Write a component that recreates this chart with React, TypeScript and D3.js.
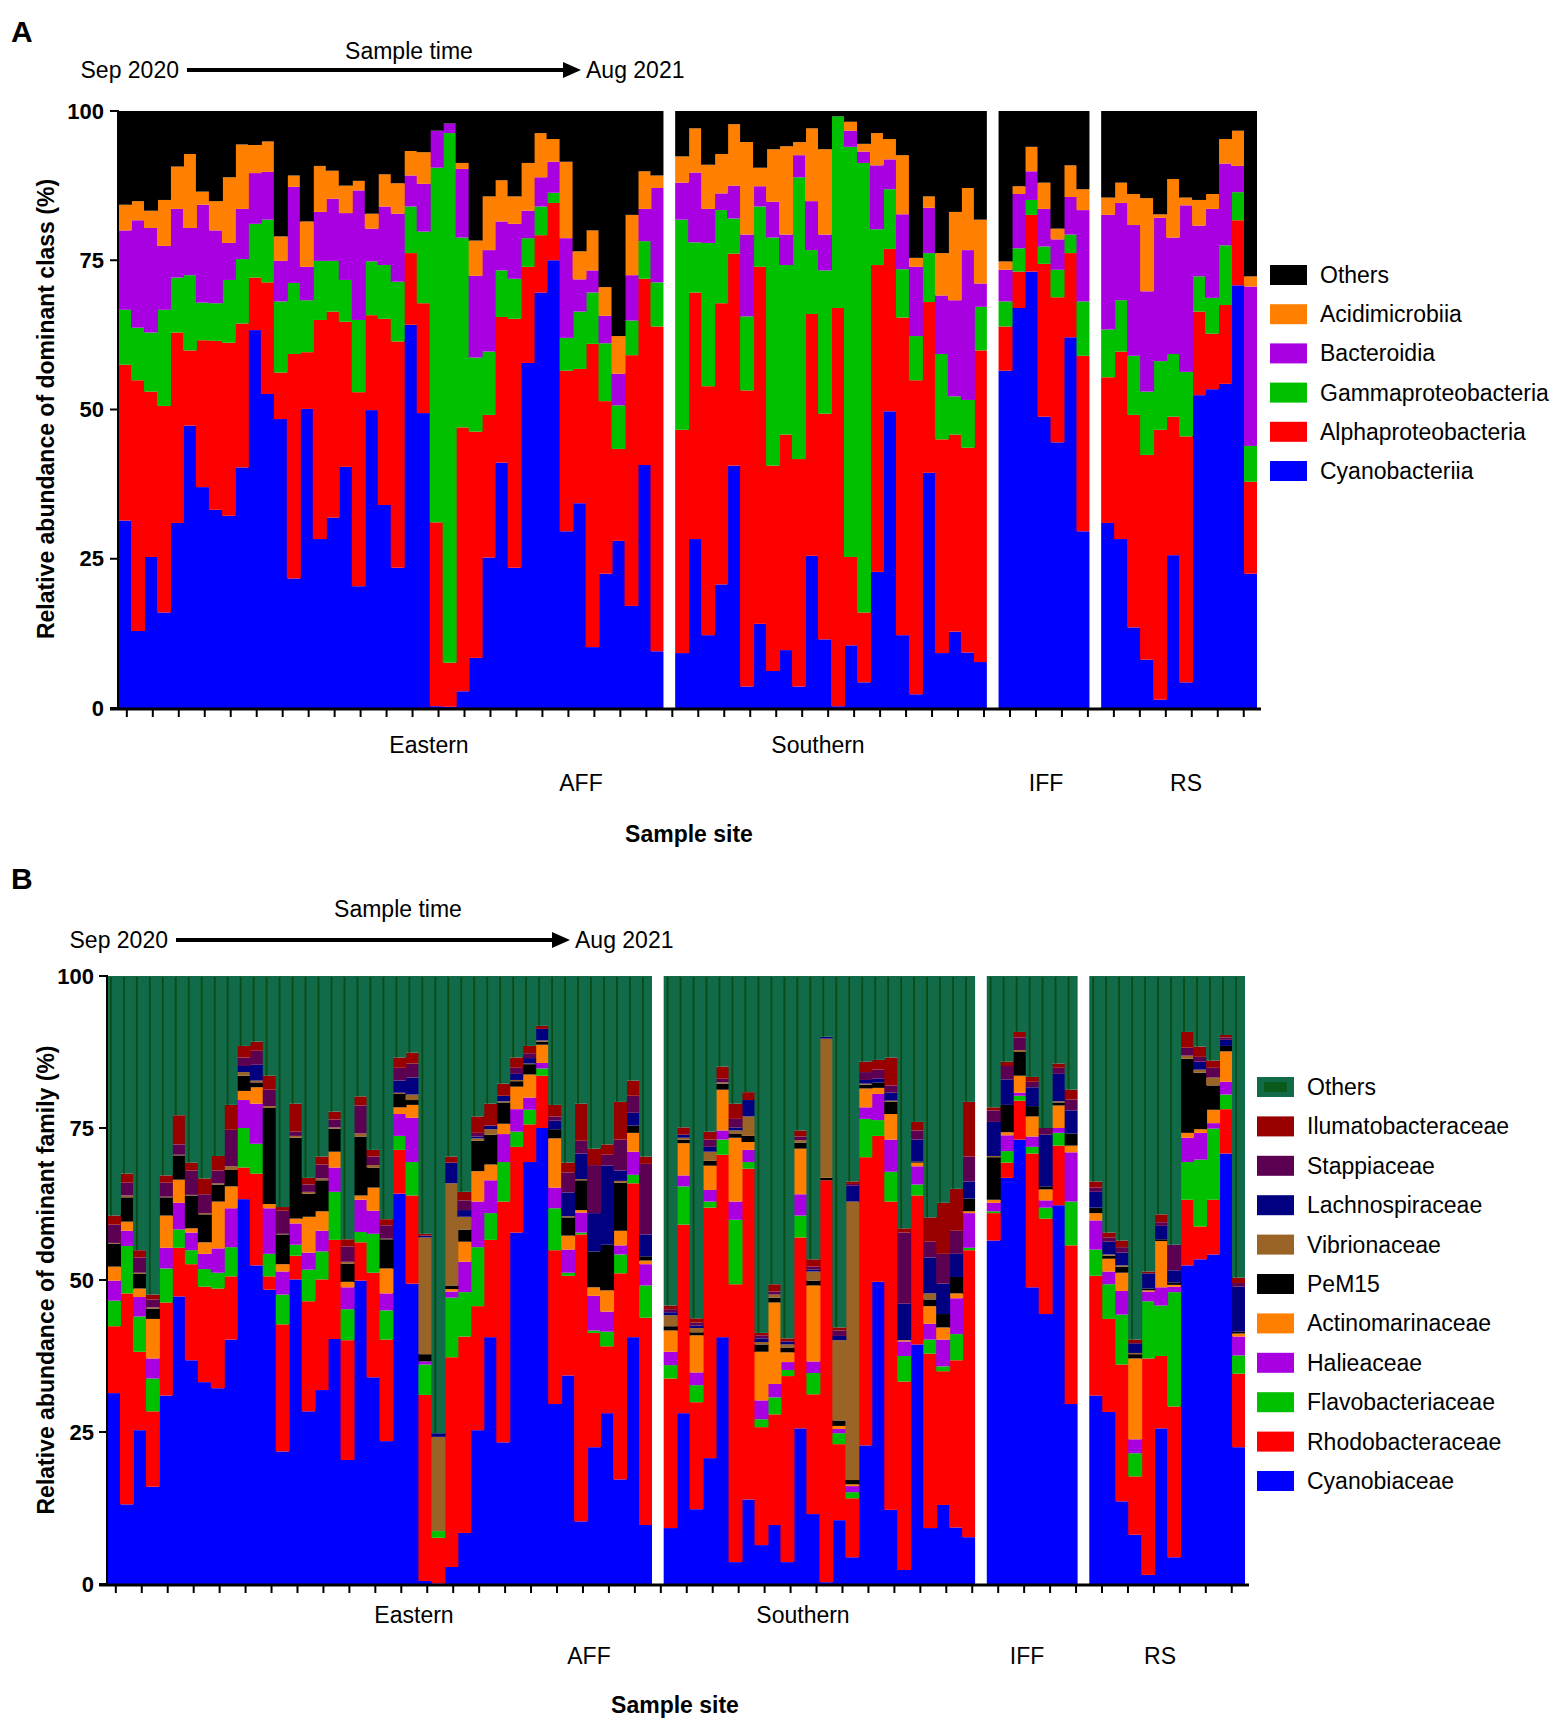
import React from 'react';
import * as d3 from 'd3';

// site groups in drawing order (bars per group follow the arrays below)
const siteGroups = ['Eastern / AFF', 'Southern', 'IFF', 'RS'];
const yTicks = [0, 25, 50, 75, 100];

const classNames = ['Cyanobacteriia', 'Alphaproteobacteria', 'Gammaproteobacteria', 'Bacteroidia', 'Acidimicrobiia', 'Others'];
const classColors = ['#0000ff', '#ff0000', '#00c000', '#a800e0', '#ff8000', '#000000'];

const familyNames = ['Cyanobiaceae', 'Rhodobacteraceae', 'Flavobacteriaceae', 'Halieaceae', 'Actinomarinaceae', 'PeM15', 'Vibrionaceae', 'Lachnospiraceae', 'Stappiaceae', 'Ilumatobacteraceae', 'Others'];
const familyColors = ['#0000ff', '#ff0000', '#00c000', '#a800e0', '#ff8000', '#000000', '#9a6426', '#000080', '#5c0052', '#990000', '#116a48'];

// class level, one row per sample: Cyano, Alpha, Gamma, Bacteroidia, Acidimicrobiia (%)
const classEastern = [
  [31.4, 26.1, 9.2, 13.3, 4.3], [12.9, 42.0, 8.8, 18.0, 3.2], [25.3, 27.7, 9.9, 17.5, 2.9], [16.0, 34.6, 16.1, 10.7, 7.7],
  [31.0, 31.9, 9.2, 11.5, 7.1], [47.3, 12.6, 12.6, 7.9, 12.4], [37.0, 24.6, 6.3, 16.4, 2.2], [33.2, 28.3, 6.3, 12.2, 4.9],
  [32.2, 29.0, 10.5, 6.2, 11.0], [40.3, 24.1, 10.8, 8.4, 10.8], [63.3, 8.8, 9.0, 8.5, 4.7], [52.6, 18.7, 10.5, 8.0, 5.1],
  [48.4, 7.8, 11.9, 6.8, 4.1], [21.7, 37.6, 11.9, 16.1, 1.9], [50.1, 9.5, 8.7, 5.6, 7.6], [28.3, 36.7, 9.9, 8.2, 7.7],
  [31.9, 34.5, 8.5, 10.4, 4.7], [40.4, 24.3, 7.0, 11.2, 4.6], [20.4, 32.5, 12.1, 21.7, 1.6], [49.9, 15.9, 9.0, 5.5, 2.5],
  [34.0, 31.2, 9.0, 9.8, 5.4], [23.5, 37.9, 10.0, 11.4, 5.1], [64.2, 12.0, 7.8, 5.2, 4.1], [49.4, 18.4, 12.0, 8.0, 5.3],
  [0.3, 30.8, 59.4, 6.2, 0], [0.2, 7.4, 88.7, 1.6, 0], [2.8, 44.2, 31.8, 11.5, 1.0], [8.4, 37.9, 12.4, 13.7, 5.9],
  [25.2, 23.9, 10.6, 17.0, 9.0], [41.1, 24.4, 7.8, 8.2, 6.9], [23.5, 41.7, 6.7, 9.2, 4.6], [57.8, 16.1, 4.8, 4.6, 8.0],
  [69.6, 9.6, 4.8, 4.9, 7.4], [75.0, 9.6, 1.7, 5.2, 3.8], [29.6, 26.9, 5.5, 16.7, 12.8], [34.3, 22.5, 9.6, 5.4, 4.7],
  [10.2, 50.8, 8.6, 3.7, 6.7], [22.5, 28.9, 9.7, 4.6, 4.8], [28.0, 15.4, 7.3, 5.3, 6.3], [17.1, 42.0, 5.8, 7.6, 10.1],
  [40.7, 31.2, 6.3, 5.4, 6.3], [9.5, 54.4, 7.4, 15.8, 2.1],
];
const classSouthern = [
  [9.2, 37.4, 35.2, 6.2, 4.4], [28.3, 41.3, 8.4, 11.7, 7.4], [12.2, 41.7, 24.0, 5.7, 7.4], [20.7, 47.1, 15.6, 2.8, 6.6],
  [40.6, 35.5, 5.9, 5.5, 10.3], [3.6, 49.6, 12.4, 13.7, 15.5], [14.1, 59.8, 10.1, 3.4, 3.1], [6.2, 34.4, 38.2, 6.0, 8.8],
  [9.7, 36.1, 28.4, 5.1, 14.8], [3.6, 38.1, 47.2, 3.7, 2.2], [25.5, 40.5, 10.7, 8.2, 12.2], [11.5, 37.8, 24.0, 6.0, 14.3],
  [0.3, 66.7, 32.1, 0, 0], [10.5, 14.8, 68.7, 2.7, 1.5], [4.3, 11.7, 75.3, 1.9, 1.3], [22.8, 51.4, 6.0, 10.7, 5.4],
  [49.7, 27.2, 10.0, 5.0, 3.4], [12.2, 53.2, 8.1, 9.2, 9.9], [2.3, 52.6, 7.4, 11.6, 1.5], [39.4, 28.6, 8.2, 7.6, 1.9],
  [9.2, 35.8, 14.3, 9.8, 7.1], [12.8, 33.0, 6.4, 16.1, 14.8], [9.3, 34.3, 8.0, 25.1, 10.4], [7.7, 52.2, 7.3, 3.9, 10.7],
];
const classIFF = [
  [56.5, 7.4, 4.2, 5.3, 1.4], [67.0, 6.1, 3.9, 9.1, 1.3], [73.1, 9.5, 2.5, 4.8, 4.1], [48.8, 25.6, 2.9, 6.3, 4.4],
  [44.5, 24.3, 4.6, 5.1, 1.8], [62.1, 14.1, 3.1, 6.3, 5.3], [29.6, 29.4, 9.1, 15.3, 3.5],
];
const classRS = [
  [31.0, 24.4, 8.0, 19.2, 2.9], [28.3, 31.4, 8.6, 16.3, 3.4], [13.5, 35.6, 9.9, 21.9, 5.2], [8.1, 34.3, 10.6, 16.8, 15.6],
  [1.4, 45.2, 11.5, 24.0, 0.6], [25.6, 23.2, 10.5, 19.5, 9.8], [4.3, 41.2, 10.8, 27.9, 1.3], [52.4, 14.0, 5.9, 8.5, 4.3],
  [53.4, 9.3, 6.0, 14.9, 2.5], [54.3, 13.2, 10.0, 13.7, 4.1], [70.8, 10.9, 4.7, 4.4, 5.9], [22.5, 15.4, 6.0, 26.7, 1.7],
];

// family level, one row per sample: Cyanobiaceae ... Ilumatobacteraceae (%)
const familyEastern = [
  [31.4, 11.0, 4.2, 3.3, 2.3, 3.8, 0.1, 0, 3.0, 1.5], [13.1, 34.7, 7.8, 2.5, 1.5, 4.0, 0.3, 0, 2.1, 1.5],
  [25.3, 12.9, 5.8, 3.2, 1.4, 2.4, 0.2, 0, 2.5, 1.2], [16.0, 12.4, 5.4, 3.3, 6.5, 1.7, 0.2, 0, 1.3, 0.8],
  [31.0, 15.3, 5.6, 3.4, 5.3, 3.0, 0.1, 0, 2.3, 1.2], [47.3, 8.0, 3.0, 4.4, 3.8, 4.0, 0.1, 0, 1.7, 4.8],
  [36.8, 15.8, 2.3, 2.9, 0.7, 5.4, 0.1, 0, 4.0, 1.3], [33.2, 15.7, 2.9, 2.5, 1.9, 4.6, 0.2, 0, 3.1, 2.6],
  [32.2, 16.4, 2.6, 4.0, 7.7, 2.8, 0.2, 0, 2.1, 2.4], [40.2, 10.4, 4.8, 6.4, 3.6, 2.7, 0.6, 0, 6.0, 4.1],
  [63.3, 5.2, 6.5, 4.6, 1.5, 2.5, 0.6, 1.0, 1.4, 1.9], [52.4, 15.1, 4.9, 6.6, 2.7, 0.8, 0.3, 2.6, 2.3, 1.5],
  [48.4, 2.2, 3.7, 7.5, 0.7, 15.8, 0.3, 0, 2.7, 2.3], [21.8, 20.9, 4.9, 3.8, 1.2, 4.9, 0.1, 0, 3.8, 0.6],
  [50.1, 3.9, 1.8, 3.5, 0.8, 13.3, 0.3, 0, 0.7, 4.6], [28.4, 18.1, 5.2, 2.8, 5.9, 3.8, 0.3, 0, 1.2, 1.1],
  [31.9, 18.2, 4.6, 3.4, 3.2, 5.1, 0.3, 0, 2.3, 1.3], [40.3, 16.3, 7.9, 4.0, 2.6, 3.8, 0.2, 0, 1.3, 1.3],
  [20.4, 19.7, 5.1, 3.6, 0.9, 3.0, 0.3, 0, 2.5, 1.2], [49.9, 6.3, 1.7, 5.3, 0.7, 9.7, 0.5, 0, 4.6, 1.5],
  [34.0, 17.2, 6.4, 3.8, 3.8, 3.3, 0.4, 0, 1.4, 1.1], [23.5, 16.7, 4.8, 2.8, 4.1, 4.8, 0.1, 0, 2.2, 1.0],
  [64.2, 7.2, 2.3, 3.6, 1.1, 2.2, 0.2, 2.0, 2.1, 1.7], [49.4, 14.5, 5.5, 7.3, 2.1, 0.8, 0.9, 2.8, 2.3, 1.8],
  [0.5, 30.6, 5.0, 0.5, 0, 1.2, 19.2, 0.3, 0, 0.3], [0.1, 7.5, 1.1, 0, 0, 0, 15.5, 0.6, 0, 0],
  [2.8, 34.5, 9.8, 1.0, 0.4, 0.6, 16.8, 3.4, 0, 1.0], [8.4, 32.3, 7.3, 5.0, 3.3, 2.0, 2.1, 1.1, 1.6, 1.4],
  [25.3, 20.4, 9.7, 7.5, 5.0, 5.0, 0.4, 0.3, 0.6, 2.7], [40.6, 16.0, 4.4, 5.4, 2.6, 4.9, 0.9, 0.6, 0, 3.6],
  [23.3, 39.6, 6.5, 4.6, 1.7, 3.5, 0.2, 0.9, 0, 2.0], [57.8, 14.1, 2.5, 3.7, 3.7, 0.9, 0.2, 1.0, 1.0, 1.7],
  [69.4, 6.2, 2.4, 2.0, 3.8, 1.7, 0.1, 0.9, 0.8, 1.2], [75.0, 8.6, 1.2, 0.9, 3.0, 0.5, 0.2, 1.9, 0, 0.5],
  [29.6, 25.3, 6.9, 3.4, 8.1, 1.5, 0, 1.4, 0.7, 1.9], [34.3, 16.4, 0.5, 3.8, 2.3, 3.0, 0.2, 3.9, 3.3, 1.6],
  [10.3, 47.2, 0.3, 3.3, 0.4, 4.9, 0.2, 4.2, 2.1, 6.1], [22.5, 18.8, 0.4, 5.7, 1.4, 5.9, 0, 6.3, 7.9, 2.7],
  [28.1, 11.0, 2.4, 3.3, 3.5, 7.5, 0, 13.0, 1.8, 1.7], [17.2, 33.9, 3.1, 1.5, 2.4, 7.9, 0.3, 1.7, 5.1, 6.2],
  [40.6, 25.3, 1.4, 3.8, 3.1, 1.2, 0, 2.1, 2.8, 2.5], [9.7, 34.1, 5.3, 3.5, 0.6, 0.7, 0, 3.6, 11.6, 1.2],
];
const familySouthern = [
  [9.2, 24.6, 2.2, 2.2, 3.5, 0.7, 1.8, 0.5, 0.5, 0.6], [28.1, 31.0, 6.3, 1.8, 5.3, 0.6, 0.3, 0.5, 0, 1.2],
  [12.3, 17.6, 2.8, 2.1, 6.1, 0.5, 0.7, 0.4, 0.5, 0.7], [20.7, 41.2, 1.0, 1.9, 4.0, 0.8, 1.5, 0.8, 1.2, 1.3],
  [40.6, 30.0, 2.5, 1.5, 6.7, 1.0, 0.2, 0, 0.6, 2.0], [3.6, 45.7, 10.6, 3.0, 10.5, 0.7, 0.5, 0.5, 1.4, 2.5],
  [13.9, 54.4, 1.1, 2.0, 1.3, 1.0, 3.2, 2.7, 0, 1.3], [6.4, 19.4, 1.3, 3.1, 8.0, 1.2, 0.4, 0.6, 0.5, 0.4],
  [9.7, 18.2, 2.8, 2.2, 13.4, 0.8, 0.5, 0, 0.5, 1.2], [3.6, 30.6, 1.0, 1.3, 1.6, 0.8, 0.5, 0.5, 0, 0.5],
  [25.6, 31.4, 3.6, 3.5, 7.5, 1.0, 0.4, 0, 0.6, 1.0], [11.5, 19.7, 3.5, 1.9, 12.5, 0.8, 1.5, 0.3, 0.5, 1.2],
  [0.3, 66.1, 0, 0, 0, 0.4, 22.9, 0.3, 0, 0], [10.5, 12.5, 1.8, 0.7, 0.5, 0.9, 13.2, 0.7, 0.9, 0.5],
  [4.4, 9.7, 1.0, 1.0, 0.3, 0.7, 45.8, 2.6, 0.3, 0.4], [22.8, 47.4, 6.3, 1.9, 3.1, 0.6, 0.2, 0.6, 1.3, 1.7],
  [49.7, 24.0, 2.6, 4.3, 1.0, 0.9, 0, 0.6, 1.5, 1.6], [12.2, 50.7, 4.9, 5.3, 4.2, 2.0, 0.2, 1.3, 1.2, 4.6],
  [2.3, 31.0, 4.2, 2.4, 0.2, 0, 0, 6.0, 11.7, 0.7], [39.4, 24.5, 1.8, 3.0, 0.6, 0.2, 0, 3.6, 1.5, 1.4],
  [9.2, 28.7, 2.3, 2.6, 2.9, 1.1, 1.0, 5.9, 2.6, 4.0], [13.0, 22.0, 0.8, 4.4, 2.0, 2.2, 0, 5.0, 4.9, 8.4],
  [9.3, 27.5, 4.3, 5.9, 0.8, 2.7, 0, 3.8, 3.8, 6.9], [7.7, 47.2, 0.4, 5.7, 0.3, 2.1, 0, 2.8, 4.1, 9.0],
];
const familyIFF = [
  [56.5, 4.5, 0.3, 1.4, 0.5, 7.0, 0.2, 5.6, 1.9, 0.5], [66.8, 2.5, 1.9, 2.6, 0.5, 4.5, 0, 4.2, 2.2, 0.7],
  [73.1, 6.4, 0.8, 0.5, 2.8, 3.9, 0.3, 0, 2.1, 0.9], [48.8, 22.0, 1.1, 1.7, 3.3, 1.7, 0, 3.1, 0.9, 0.8],
  [44.4, 15.7, 1.8, 1.2, 1.8, 0.5, 0, 8.5, 1.1, 0], [62.3, 9.8, 2.1, 0.8, 3.7, 0.5, 0.2, 4.5, 1.0, 0.7],
  [29.6, 26.1, 7.2, 8.1, 1.1, 2.0, 0, 3.8, 1.8, 1.6],
];
const familyRS = [
  [31.0, 19.7, 4.3, 4.8, 1.2, 0.9, 0, 2.6, 0.7, 1.0], [28.3, 15.3, 5.7, 2.1, 2.1, 0.5, 0.2, 2.1, 0.7, 0.8],
  [13.6, 22.5, 8.2, 3.9, 3.0, 1.0, 0.2, 2.1, 0.9, 1.1], [8.1, 9.6, 3.8, 2.3, 13.3, 0.7, 0.2, 1.6, 0, 0.6],
  [1.5, 35.6, 9.4, 1.6, 0.2, 0.3, 0, 2.5, 0, 0.3], [25.6, 11.9, 8.3, 3.0, 7.6, 0.3, 0, 2.2, 0.6, 1.3],
  [4.4, 24.8, 18.8, 0.9, 0.3, 0.4, 0, 2.0, 4.2, 0], [52.4, 10.8, 6.2, 4.0, 0.8, 12.2, 0.5, 0, 1.3, 2.6],
  [53.4, 5.4, 11.0, 4.4, 0.6, 9.3, 0.5, 1.3, 0.8, 1.7], [54.2, 9.0, 11.7, 0.9, 2.2, 4.0, 1.3, 0, 1.6, 1.2],
  [70.8, 7.3, 2.4, 2.1, 5.0, 0.9, 0, 1.0, 0.4, 0.4], [22.5, 12.1, 3.0, 3.1, 0.5, 0.3, 0, 7.4, 0.6, 0.9],
];

const FONT = '"Liberation Sans", Arial, sans-serif';
const GAP = 0.9; // gap between site groups, in bar widths

type Row = { [key: string]: number };

function buildTable(groups: number[][][], keys: string[]): Row[] {
  const table: Row[] = [];
  groups.forEach((rows, gi) => {
    rows.forEach(r => {
      const rec: Row = { slot: table.length + gi * GAP };
      keys.slice(0, -1).forEach((k, j) => (rec[k] = r[j]));
      rec.Others = Math.max(0, 100 - d3.sum(r));
      table.push(rec);
    });
  });
  return table;
}

type PanelProps = {
  groups: number[][][];
  keys: string[];
  colors: string[];
  left: number;
  right: number;
  top: number;
  bottom: number;
  tickLabelX: number;
  striped?: boolean;
};

const StackedPanel = ({ groups, keys, colors, left, right, top, bottom, tickLabelX, striped }: PanelProps) => {
  const table = buildTable(groups, keys);
  const nSlots = table.length + (groups.length - 1) * GAP;
  const x = d3.scaleLinear().domain([0, nSlots]).range([left, right]);
  const y = d3.scaleLinear().domain([0, 100]).range([bottom, top]);
  const w = x(1) - x(0);
  const series = d3.stack<Row>().keys(keys)(table);
  const others = series[series.length - 1];
  const xTicks = d3.range(44).map(i => x(0.68 + 2 * i));
  // last bar of each group must not bleed into the white gap
  const lastInGroup = new Set(d3.cumsum(groups.map(g => g.length)).map(v => v - 1));

  return (
    <g>
      {series.map((s, si) => (
        <g key={keys[si]} fill={colors[si]}>
          {s.map((d, i) => (
            <rect
              key={i}
              x={x(d.data.slot)}
              y={y(d[1])}
              width={lastInGroup.has(i) ? w : w + 1}
              height={Math.max(0, y(d[0]) - y(d[1]))}
            />
          ))}
        </g>
      ))}
      {striped && (
        <g stroke="#0a4c16" strokeWidth={1.8}>
          {others.map((d, i) => (
            <line key={i} x1={x(d.data.slot) + w * 0.3} x2={x(d.data.slot) + w * 0.3} y1={y(100) + 1} y2={y(d[0])} />
          ))}
        </g>
      )}
      {/* y axis */}
      <line x1={left} x2={left} y1={top - 1} y2={bottom} stroke="#000" strokeWidth={2} />
      {yTicks.map(t => (
        <g key={t}>
          <line x1={left - 8} x2={left} y1={y(t)} y2={y(t)} stroke="#000" strokeWidth={2} />
          <text x={tickLabelX} y={y(t)} textAnchor="end" dominantBaseline="central" fontFamily={FONT} fontWeight="bold" fontSize={22}>
            {t}
          </text>
        </g>
      ))}
      {/* x axis */}
      <line x1={left - 8} x2={right + 4} y1={bottom + 1} y2={bottom + 1} stroke="#000" strokeWidth={3} />
      {xTicks.map((t, i) => (
        <line key={i} x1={t} x2={t} y1={bottom} y2={bottom + 9} stroke="#000" strokeWidth={2} />
      ))}
    </g>
  );
};

const TimeArrow = ({ y, x0, x1, labelY }: { y: number; x0: number; x1: number; labelY: number }) => (
  <g fontFamily={FONT} fontSize={23}>
    <text x={(x0 + x1) / 2 + 25} y={labelY} textAnchor="middle" dominantBaseline="central">Sample time</text>
    <text x={x0 - 8} y={y} textAnchor="end" dominantBaseline="central">Sep 2020</text>
    <line x1={x0} x2={x1 - 16} y1={y} y2={y} stroke="#000" strokeWidth={4} />
    <path d={`M${x1 - 18},${y - 8} L${x1},${y} L${x1 - 18},${y + 8} Z`} fill="#000" />
    <text x={x1 + 5} y={y} dominantBaseline="central">Aug 2021</text>
  </g>
);

const Legend = ({ names, colors, x, y0, step, striped }: { names: string[]; colors: string[]; x: number; y0: number; step: number; striped?: boolean }) => {
  const order = names.map((n, i) => i).reverse();
  return (
    <g fontFamily={FONT} fontSize={23}>
      {order.map((si, k) => (
        <g key={names[si]} transform={`translate(${x},${y0 + k * step})`}>
          <rect x={0} y={-10} width={37} height={20} fill={colors[si]} />
          {striped && names[si] === 'Others' && <rect x={7} y={-5} width={23} height={10} fill="#0a5a1c" />}
          <text x={50} y={0} dominantBaseline="central">{names[si]}</text>
        </g>
      ))}
    </g>
  );
};

const SiteLabels = ({ pos }: { pos: { text: string; x: number; y: number; bold?: boolean }[] }) => (
  <g fontFamily={FONT} fontSize={23}>
    {pos.map(p => (
      <text key={p.text} x={p.x} y={p.y} textAnchor="middle" dominantBaseline="central" fontWeight={p.bold ? 'bold' : 'normal'}>
        {p.text}
      </text>
    ))}
  </g>
);

export default function App() {
  const classGroups = [classEastern, classSouthern, classIFF, classRS];
  const familyGroups = [familyEastern, familySouthern, familyIFF, familyRS];
  return (
    <div style={{ position: 'absolute', left: 0, top: 0 }}>
      <svg width={1562} height={1721} viewBox="0 0 1562 1721" style={{ display: 'block', background: '#fff' }} data-groups={siteGroups.join(',')}>
        {/* Panel A */}
        <text x={11} y={42} fontFamily={FONT} fontWeight="bold" fontSize={30}>A</text>
        <TimeArrow y={70} x0={187} x1={581} labelY={51} />
        <StackedPanel groups={classGroups} keys={classNames} colors={classColors} left={118} right={1257} top={111} bottom={708} tickLabelX={104} />
        <text transform="translate(46,409) rotate(-90)" textAnchor="middle" dominantBaseline="central" fontFamily={FONT} fontWeight="bold" fontSize={23}>
          Relative abundance of dominant class (%)
        </text>
        <SiteLabels
          pos={[
            { text: 'Eastern', x: 429, y: 745 },
            { text: 'Southern', x: 818, y: 745 },
            { text: 'AFF', x: 581, y: 783 },
            { text: 'IFF', x: 1046, y: 783 },
            { text: 'RS', x: 1186, y: 783 },
            { text: 'Sample site', x: 689, y: 834, bold: true },
          ]}
        />
        <Legend names={classNames} colors={classColors} x={1270} y0={275} step={39.2} />

        {/* Panel B */}
        <text x={11} y={889} fontFamily={FONT} fontWeight="bold" fontSize={30}>B</text>
        <TimeArrow y={940} x0={176} x1={570} labelY={909} />
        <StackedPanel groups={familyGroups} keys={familyNames} colors={familyColors} left={107} right={1245} top={976} bottom={1584} tickLabelX={94} striped />
        <text transform="translate(46,1280) rotate(-90)" textAnchor="middle" dominantBaseline="central" fontFamily={FONT} fontWeight="bold" fontSize={23}>
          Relative abundance of dominant family (%)
        </text>
        <SiteLabels
          pos={[
            { text: 'Eastern', x: 414, y: 1615 },
            { text: 'Southern', x: 803, y: 1615 },
            { text: 'AFF', x: 589, y: 1656 },
            { text: 'IFF', x: 1027, y: 1656 },
            { text: 'RS', x: 1160, y: 1656 },
            { text: 'Sample site', x: 675, y: 1705, bold: true },
          ]}
        />
        <Legend names={familyNames} colors={familyColors} x={1257} y0={1087} step={39.4} striped />
      </svg>
    </div>
  );
}
